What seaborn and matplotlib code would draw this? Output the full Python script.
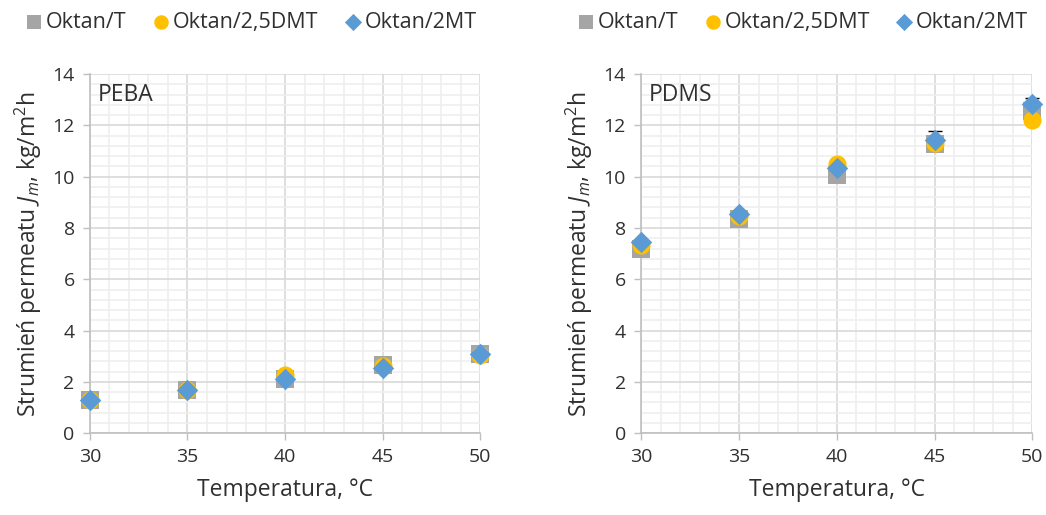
import matplotlib.pyplot as plt
from matplotlib.ticker import MultipleLocator
import seaborn as sns
import numpy as np
import pandas as pd

# %%
temps = [30, 35, 40, 45, 50]
series = ["Oktan/T", "Oktan/2,5DMT", "Oktan/2MT"]

peba_T = [1.30, 1.70, 2.10, 2.65, 3.10]
peba_DMT = [1.30, 1.70, 2.25, 2.60, 3.05]
peba_2MT = [1.30, 1.70, 2.10, 2.55, 3.10]

pdms_T = [7.20, 8.35, 10.08, 11.29, 12.55]
pdms_DMT = [7.33, 8.45, 10.50, 11.30, 12.20]
pdms_2MT = [7.47, 8.54, 10.34, 11.45, 12.85]
pdms_2MT_err = [0.0, 0.10, 0.0, 0.32, 0.22]

colors = {"Oktan/T": "#A5A5A5", "Oktan/2,5DMT": "#FFC000", "Oktan/2MT": "#5B9BD5"}
markers = {"Oktan/T": "s", "Oktan/2,5DMT": "o", "Oktan/2MT": "D"}
sizes_pt = {"Oktan/T": 150, "Oktan/2,5DMT": 170, "Oktan/2MT": 120}


def long_df(vals):
    rows = []
    for name, v in zip(series, vals):
        for t, y in zip(temps, v):
            rows.append({"temp": t, "flux": y, "seria": name})
    return pd.DataFrame(rows)


# %%
sns.set_theme(style="white")
plt.rcParams["font.family"] = ["Open Sans", "DejaVu Sans"]
plt.rcParams["mathtext.fontset"] = "custom"
plt.rcParams["mathtext.rm"] = "Open Sans"
plt.rcParams["mathtext.it"] = "Open Sans:italic"

fig = plt.figure(figsize=(10.46, 5.15), dpi=100)
ax1 = fig.add_axes([0.086, 0.159, 0.373, 0.697])
ax2 = fig.add_axes([0.613, 0.159, 0.374, 0.697])

panels = [
    (ax1, [peba_T, peba_DMT, peba_2MT], "PEBA", None),
    (ax2, [pdms_T, pdms_DMT, pdms_2MT], "PDMS", pdms_2MT_err),
]

for ax, vals, name, err in panels:
    df = long_df(vals)
    if err is not None:
        ax.errorbar(temps, vals[2], yerr=[np.zeros(5), err], fmt="none",
                    ecolor="black", elinewidth=1, capsize=5, zorder=2, clip_on=False)
    for s in series:
        sub = df[df["seria"] == s]
        sns.scatterplot(data=sub, x="temp", y="flux", color=colors[s], marker=markers[s],
                        s=sizes_pt[s], linewidth=0, ax=ax, label=s, zorder=3, clip_on=False)

    ax.set_xlim(30, 50)
    ax.set_ylim(0, 14)
    ax.xaxis.set_major_locator(MultipleLocator(5))
    ax.xaxis.set_minor_locator(MultipleLocator(1))
    ax.yaxis.set_major_locator(MultipleLocator(2))
    ax.yaxis.set_minor_locator(MultipleLocator(0.4))
    ax.grid(which="major", color="#D9D9D9", linewidth=1.2)
    ax.grid(which="minor", color="#EFEFEF", linewidth=1.2)
    ax.set_axisbelow(True)
    for sp in ["top", "right"]:
        ax.spines[sp].set_visible(False)
    for sp in ["left", "bottom"]:
        ax.spines[sp].set_color("#BFBFBF")
        ax.spines[sp].set_linewidth(1.2)
    ax.tick_params(which="major", direction="out", length=5, width=1, color="#BFBFBF",
                   labelsize=14, labelcolor="#303030", left=True, bottom=True, pad=6)
    ax.tick_params(which="minor", length=0)
    ax.set_xlabel("Temperatura, °C", fontsize=16.5, color="#303030", labelpad=8)
    ax.set_ylabel(r"Strumień permeatu $J_m$, kg/m$^2$h", fontsize=16.5, color="#303030", labelpad=6)
    ax.text(0.02, 0.975, name, transform=ax.transAxes, fontsize=16.5, color="#303030",
            ha="left", va="top")
    sns.move_legend(ax, "center", bbox_to_anchor=(0.41, 1.145), ncol=3, frameon=False,
                    title=None, fontsize=15.5, handletextpad=0.05, columnspacing=1.1,
                    markerscale=0.8, handlelength=1.0, labelcolor="#303030")

fig.savefig("out.png", dpi=100)
